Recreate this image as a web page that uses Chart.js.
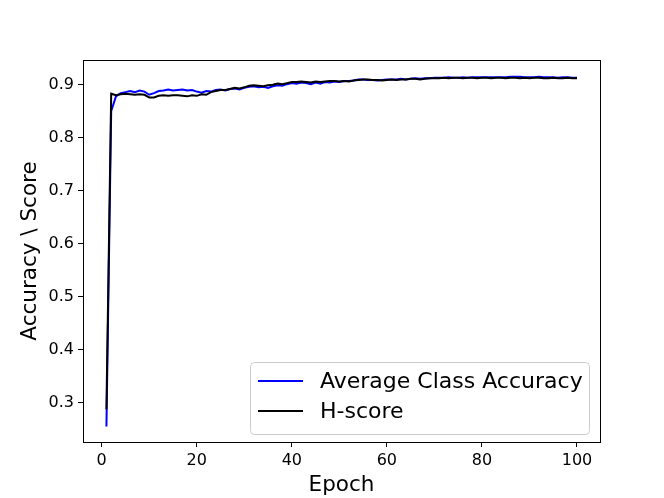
<!DOCTYPE html>
<html>
<head>
<meta charset="utf-8">
<script src="https://cdn.jsdelivr.net/npm/chart.js@4/dist/chart.umd.min.js"></script>
<style>
  html, body { margin: 0; padding: 0; background: #fff; }
  #wrap { width: 664px; height: 498px; }
</style>
</head>
<body>
<div id="wrap"><canvas id="myChart" width="664" height="498"></canvas></div>
<script>
// epochs 1..100
const epochs = Array.from({ length: 100 }, (_, i) => i + 1);

const avgClassAcc = [
  0.255, 0.850, 0.878, 0.884, 0.886, 0.888, 0.886, 0.889, 0.887, 0.881,
  0.884, 0.888, 0.889, 0.891, 0.889, 0.890, 0.891, 0.889, 0.890, 0.887,
  0.885, 0.888, 0.887, 0.890, 0.891, 0.889, 0.892, 0.893, 0.891, 0.894,
  0.896, 0.897, 0.895, 0.896, 0.894, 0.897, 0.899, 0.898, 0.901, 0.903,
  0.902, 0.904, 0.903, 0.901, 0.904, 0.902, 0.905, 0.904, 0.906, 0.905,
  0.907, 0.907, 0.908, 0.910, 0.910, 0.909, 0.909, 0.908, 0.909, 0.910,
  0.910, 0.910, 0.911, 0.910, 0.911, 0.912, 0.911, 0.912, 0.912, 0.913,
  0.913, 0.913, 0.914, 0.913, 0.913, 0.914, 0.913, 0.914, 0.914, 0.914,
  0.914, 0.914, 0.914, 0.914, 0.914, 0.915, 0.915, 0.915, 0.914, 0.914,
  0.914, 0.915, 0.914, 0.914, 0.914, 0.913, 0.914, 0.914, 0.913, 0.913
];

const hScore = [
  0.2875, 0.883, 0.880, 0.882, 0.883, 0.882, 0.881, 0.882, 0.881, 0.876,
  0.876, 0.879, 0.880, 0.879, 0.880, 0.880, 0.879, 0.878, 0.880, 0.879,
  0.882, 0.881, 0.886, 0.888, 0.890, 0.890, 0.892, 0.894, 0.893, 0.895,
  0.898, 0.899, 0.898, 0.897, 0.899, 0.900, 0.902, 0.901, 0.903, 0.905,
  0.905, 0.906, 0.905, 0.904, 0.906, 0.905, 0.906, 0.907, 0.907, 0.906,
  0.907, 0.906, 0.908, 0.909, 0.910, 0.910, 0.909, 0.909, 0.908, 0.909,
  0.910, 0.909, 0.910, 0.910, 0.911, 0.911, 0.910, 0.911, 0.912, 0.912,
  0.912, 0.913, 0.912, 0.913, 0.913, 0.912, 0.913, 0.913, 0.912, 0.913,
  0.913, 0.912, 0.913, 0.913, 0.912, 0.913, 0.913, 0.912, 0.913, 0.912,
  0.913, 0.913, 0.912, 0.912, 0.913, 0.912, 0.912, 0.913, 0.912, 0.912
];

const xTicks = [0, 20, 40, 60, 80, 100];
const yTicks = [0.3, 0.4, 0.5, 0.6, 0.7, 0.8, 0.9];

const FONT = "'DejaVu Sans', sans-serif";

// matplotlib-like frame around the plot area
const framePlugin = {
  id: 'frame',
  afterDatasetsDraw(chart) {
    const { ctx, chartArea: a } = chart;
    ctx.save();
    ctx.strokeStyle = '#000';
    ctx.lineWidth = 1;
    ctx.strokeRect(Math.round(a.left) + 0.5, Math.round(a.top) + 0.5,
      Math.round(a.right - a.left), Math.round(a.bottom - a.top));
    ctx.restore();
  }
};

// legend inside the plot, lower right
const legendPlugin = {
  id: 'innerLegend',
  afterDraw(chart) {
    const { ctx, chartArea: a } = chart;
    const w = 339, h = 72;
    const x0 = a.right - 11 - w, y0 = a.bottom - 8 - h;
    ctx.save();
    ctx.beginPath();
    ctx.roundRect(x0 + 0.5, y0 + 0.5, w, h, 4);
    ctx.fillStyle = 'rgba(255,255,255,0.8)';
    ctx.fill();
    ctx.strokeStyle = '#cccccc';
    ctx.lineWidth = 1;
    ctx.stroke();
    ctx.font = '22px ' + FONT;
    ctx.textBaseline = 'middle';
    chart.data.datasets.forEach((ds, i) => {
      const cy = y0 + 19 + i * 30;
      ctx.beginPath();
      ctx.moveTo(x0 + 8, cy);
      ctx.lineTo(x0 + 53, cy);
      ctx.strokeStyle = ds.borderColor;
      ctx.lineWidth = 2;
      ctx.stroke();
      ctx.fillStyle = '#000';
      ctx.fillText(ds.label, x0 + 70, cy + 1);
    });
    ctx.restore();
  }
};

new Chart(document.getElementById('myChart'), {
  type: 'line',
  data: {
    labels: epochs,
    datasets: [
      {
        label: 'Average Class Accuracy',
        data: avgClassAcc,
        borderColor: '#0000ff',
        borderWidth: 2,
        pointRadius: 0,
        tension: 0,
        fill: false,
        order: 1
      },
      {
        label: 'H-score',
        data: hScore,
        borderColor: '#000000',
        borderWidth: 2,
        pointRadius: 0,
        tension: 0,
        fill: false,
        order: 0
      }
    ]
  },
  options: {
    responsive: false,
    animation: false,
    events: [],
    layout: { padding: { top: 60, right: 64, left: 0, bottom: 0 } },
    plugins: { legend: { display: false }, tooltip: { enabled: false } },
    scales: {
      x: {
        type: 'linear',
        min: -3.93,
        max: 104.84,
        afterFit(scale) { scale.height = 56; },
        afterBuildTicks(scale) { scale.ticks = xTicks.map(v => ({ value: v })); },
        grid: { drawOnChartArea: false, drawTicks: true, tickLength: 5, color: '#000', tickWidth: 1 },
        border: { display: false },
        ticks: { color: '#000', font: { family: FONT, size: 16 }, padding: 4, maxRotation: 0,
          callback: v => String(v) },
        title: { display: true, text: 'Epoch', color: '#000', font: { family: FONT, size: 21.5 },
          padding: { top: 0, bottom: 0 } }
      },
      y: {
        min: 0.2258,
        max: 0.9466,
        afterFit(scale) { scale.width = 83; },
        afterBuildTicks(scale) { scale.ticks = yTicks.map(v => ({ value: v })); },
        grid: { drawOnChartArea: false, drawTicks: true, tickLength: 5, color: '#000', tickWidth: 1 },
        border: { display: false },
        ticks: { color: '#000', font: { family: FONT, size: 16 }, padding: 4,
          callback: v => v.toFixed(1) },
        title: { display: true, text: 'Accuracy \\ Score', color: '#000', font: { family: FONT, size: 21.5 },
          padding: { top: 18, bottom: 0 } }
      }
    }
  },
  plugins: [framePlugin, legendPlugin]
});
</script>
</body>
</html>
